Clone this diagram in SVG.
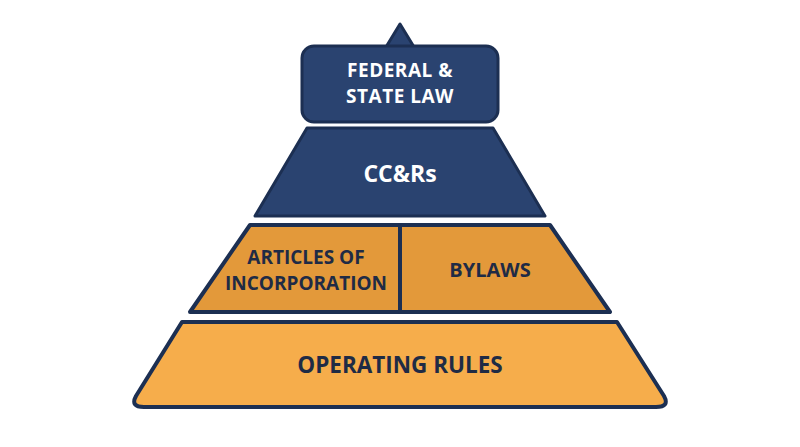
<svg xmlns="http://www.w3.org/2000/svg" width="800" height="447" viewBox="0 0 800 447">
<style>
.navy{fill:#2a4370;stroke:#1c2f52;stroke-width:3;stroke-linejoin:round}
.or1{fill:#e3993a;stroke:#1c2f52;stroke-width:4;stroke-linejoin:round}
.or2{fill:#f6ad4b;stroke:#1c2f52;stroke-width:4;stroke-linejoin:round}
.t{font-family:"Open Sans","Liberation Sans",sans-serif;font-weight:700;font-size:19px;text-anchor:middle}
.w{fill:#ffffff}
.d{fill:#1f2b45}
</style>
<rect width="800" height="447" fill="#ffffff"/>
<g id="federal">
<path class="navy" d="M400,24 L386,47 L414,47 Z"/>
<rect class="navy" x="302" y="46" width="196" height="76" rx="12"/>
<text class="t w" x="400" y="77" style="letter-spacing:0.5px">FEDERAL &amp;</text>
<text class="t w" x="400" y="103" style="letter-spacing:0.5px">STATE LAW</text>
</g>
<g id="ccrs">
<path class="navy" d="M307,128 L493,128 L545,216 L255,216 Z"/>
<text class="t w" x="400" y="182" style="font-size:23px">CC&amp;Rs</text>
</g>
<g id="articles">
<path class="or1" d="M250,225 L400,225 L400,312 L190,312 Z"/>
<text class="t d" x="306" y="264">ARTICLES OF</text>
<text class="t d" x="306" y="290">INCORPORATION</text>
</g>
<g id="bylaws">
<path class="or1" d="M400,225 L550,225 L610,312 L400,312 Z"/>
<text class="t d" x="490" y="277" style="font-size:20px">BYLAWS</text>
</g>
<g id="operating">
<path class="or2" d="M182,322 L617,322 L664,396 Q670,407 656,407 L144,407 Q130,407 136,396 Z"/>
<text class="t d" x="400" y="373" style="font-size:22.5px">OPERATING RULES</text>
</g>
<g id="connectors"></g>
</svg>
